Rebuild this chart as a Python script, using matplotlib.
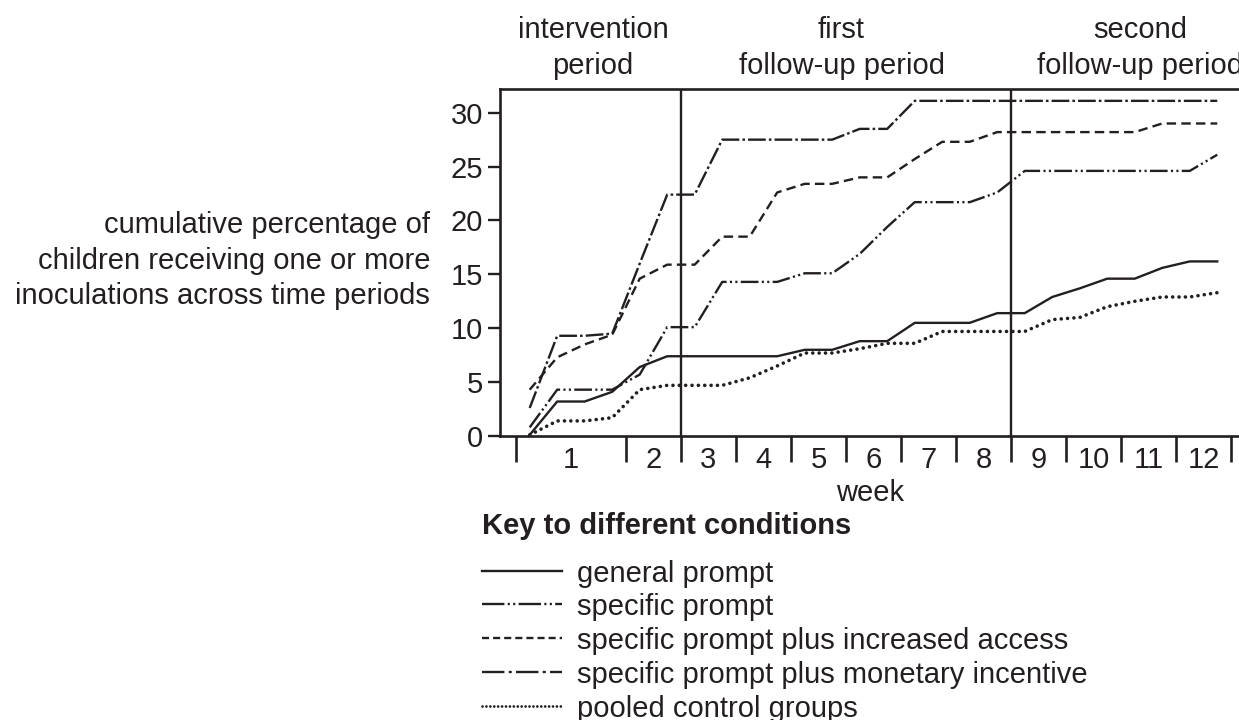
import numpy as np
import matplotlib.pyplot as plt
from matplotlib.lines import Line2D
from matplotlib import transforms

plt.rcParams['font.family'] = ['Liberation Sans', 'DejaVu Sans']
ink = '#231f20'

# position on the week axis (week 1 is twice as wide as the other weeks)
x = [0.25, 0.75, 1.25, 1.75, 2.25, 2.75, 3.25, 3.75, 4.25, 4.75, 5.25, 5.75, 6.25,
     6.75, 7.25, 7.75, 8.25, 8.75, 9.25, 9.75, 10.25, 10.75, 11.25, 11.75, 12.25, 12.75]

general = [0.1, 3.2, 3.2, 4.1, 6.4, 7.4, 7.4, 7.4, 7.4, 7.4, 8.0, 8.0, 8.8,
           8.8, 10.5, 10.5, 10.5, 11.4, 11.4, 12.9, 13.7, 14.6, 14.6, 15.6, 16.2, 16.2]
specific = [0.8, 4.3, 4.3, 4.3, 5.7, 10.1, 10.1, 14.3, 14.3, 14.3, 15.1, 15.1, 16.9,
            19.4, 21.7, 21.7, 21.7, 22.6, 24.6, 24.6, 24.6, 24.6, 24.6, 24.6, 24.6, 26.1]
access = [4.3, 7.3, 8.5, 9.4, 14.6, 15.9, 15.9, 18.5, 18.5, 22.6, 23.4, 23.4, 24.0,
          24.0, 25.7, 27.3, 27.3, 28.2, 28.2, 28.2, 28.2, 28.2, 28.2, 29.0, 29.0, 29.0]
monetary = [2.6, 9.3, 9.3, 9.5, 16.0, 22.4, 22.4, 27.5, 27.5, 27.5, 27.5, 27.5, 28.5,
            28.5, 31.1, 31.1, 31.1, 31.1, 31.1, 31.1, 31.1, 31.1, 31.1, 31.1, 31.1, 31.1]
pooled = [0.1, 1.4, 1.4, 1.7, 4.3, 4.7, 4.7, 4.7, 5.4, 6.5, 7.7, 7.7, 8.1,
          8.6, 8.6, 9.7, 9.7, 9.7, 9.7, 10.8, 11.0, 12.0, 12.5, 12.9, 12.9, 13.3]

labels = ['general prompt', 'specific prompt', 'specific prompt plus increased access',
          'specific prompt plus monetary incentive', 'pooled control groups']

week_edges = [0, 2, 3, 4, 5, 6, 7, 8, 9, 10, 11, 12, 13]
week_centres = [1, 2.5, 3.5, 4.5, 5.5, 6.5, 7.5, 8.5, 9.5, 10.5, 11.5, 12.5]
week_labels = ['1', '2', '3', '4', '5', '6', '7', '8', '9', '10', '11', '12']
period_edges = [3, 9]
period_centres = [1.4, 5.92, 11.35]
period_labels = ['intervention\nperiod', 'first\nfollow-up period', 'second\nfollow-up period']

styles = [
    dict(ls='-', lw=1.7),
    dict(ls=(0, (7.5, 1.4, 0.9, 1.4, 0.9, 1.4)), lw=1.7),
    dict(ls=(0, (4.0, 2.2)), lw=1.7),
    dict(ls=(0, (7.5, 1.3, 1.1, 1.3)), lw=1.7),
    dict(ls=(0, (0.01, 1.75)), lw=2.6, dash_capstyle='round'),
]
key_styles = [
    dict(ls='-', lw=1.7),
    dict(ls=(0, (9.5, 1.4, 0.9, 1.4, 0.9, 1.4)), lw=1.7),
    dict(ls=(0, (3.0, 1.7)), lw=1.7),
    dict(ls=(0, (9.5, 1.8, 1.3, 1.8)), lw=1.7),
    dict(ls=(0, (0.01, 1.4)), lw=2.0, dash_capstyle='round'),
]

W, H = 1239, 720
fig = plt.figure(figsize=(W / 100, H / 100), dpi=100)
ax = fig.add_axes([500 / W, 284 / H, (1253 - 500) / W, (631 - 284) / H])

for ys, st in zip([general, specific, access, monetary, pooled], styles):
    ax.plot(x, ys, color=ink, **st)

for e in period_edges:
    ax.axvline(e, color=ink, lw=1.7)

ax.set_xlim(-0.29, 13.4)
ax.set_ylim(0, 32.2)
ax.set_yticks(np.arange(0, 31, 5))
ax.set_xticks(week_centres)
ax.set_xticklabels(week_labels)
ax.set_xticks(week_edges, minor=True)
ax.tick_params(axis='x', which='major', length=0, pad=7, labelsize=21, colors=ink)
ax.tick_params(axis='x', which='minor', length=19, width=1.9, direction='out', color=ink)
ax.tick_params(axis='y', length=9, width=1.7, pad=3, labelsize=21, colors=ink)
ax.spines['right'].set_visible(False)
for s in ['left', 'top', 'bottom']:
    ax.spines[s].set_linewidth(1.9)
    ax.spines[s].set_color(ink)

ax.set_xlabel('week', fontsize=21, color=ink)
ax.xaxis.set_label_coords((870 - 500) / (1253 - 500), -43 / 347)

# period headings above the plot (baseline of the last line)
tr = transforms.blended_transform_factory(ax.transData, fig.transFigure)
for c, t in zip(period_centres, period_labels):
    ax.text(c, 1 - 74 / H, t, transform=tr, ha='center', va='baseline',
            fontsize=21, color=ink, linespacing=1.38, clip_on=False)

fig.text(430 / W, 1 - 304 / H,
         'cumulative percentage of\nchildren receiving one or more\ninoculations across time periods',
         ha='right', va='baseline', multialignment='right', fontsize=21,
         color=ink, linespacing=1.33)

# key
fig.text(482 / W, 1 - 526 / H, 'Key to different conditions', fontsize=21,
         fontweight='bold', va='center', color=ink)
rows = [571, 604, 638, 672, 706]
for r, lab, st in zip(rows, labels, key_styles):
    fig.add_artist(Line2D([482 / W, 562 / W], [1 - r / H, 1 - r / H],
                          transform=fig.transFigure, color=ink, **st))
    fig.text(577 / W, 1 - r / H, lab, fontsize=21, va='center_baseline', color=ink)

plt.savefig('out.png', dpi=100)
